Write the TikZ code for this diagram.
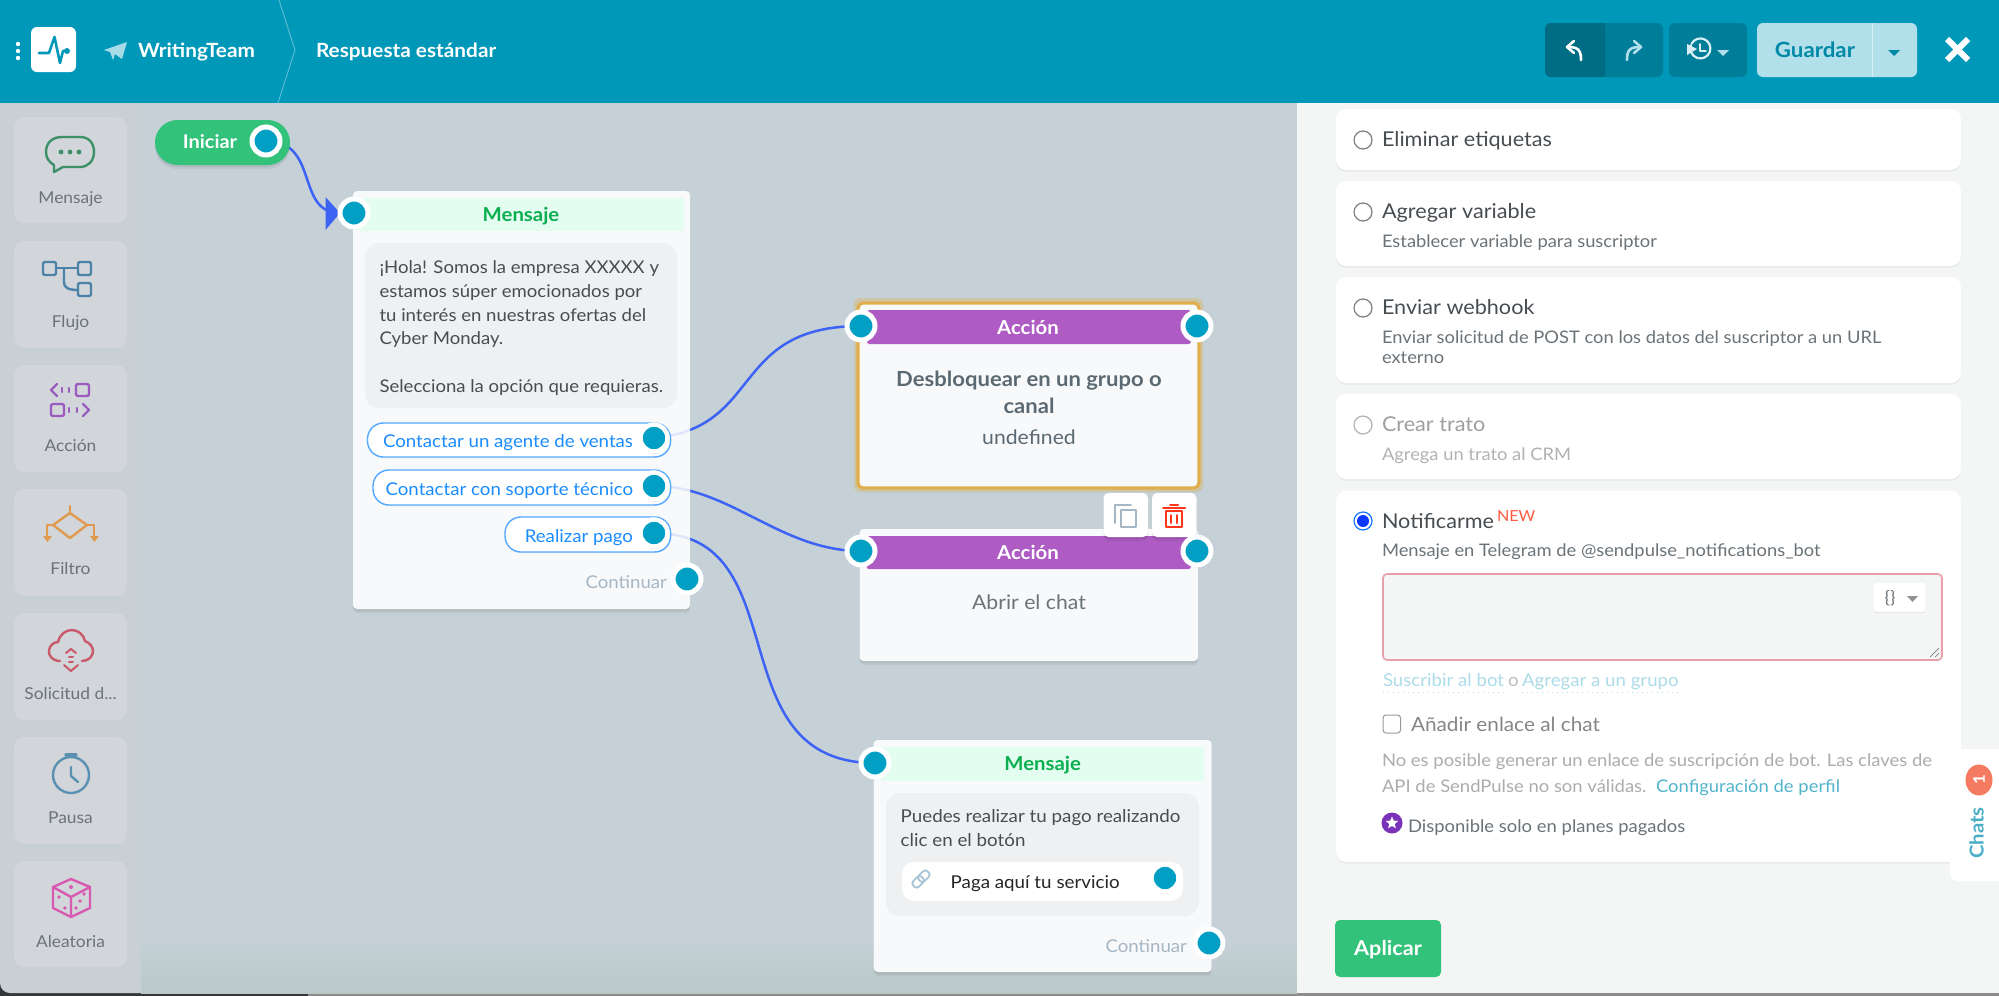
\documentclass[tikz,border=0pt]{standalone}
\usepackage{fontspec}
\setmainfont{Lato}[FakeStretch=1.06]
\usetikzlibrary{arrows.meta,shapes.geometric,shadows}
\pgfdeclarelayer{bgl}\pgfdeclarelayer{conl}\pgfdeclarelayer{cardl}\pgfdeclarelayer{fntl}
\pgfsetlayers{bgl,conl,cardl,fntl,main}
\definecolor{hdr}{HTML}{0098B9}
\definecolor{canvasc}{HTML}{C5D1D7}
\definecolor{canvasb}{HTML}{BBC8C8}
\definecolor{toolc}{HTML}{C9D0D4}
\definecolor{toolcard}{HTML}{D2D5DA}
\definecolor{panelc}{HTML}{F4F6F6}
\definecolor{cardc}{HTML}{F8F9FB}
\definecolor{mgreen}{HTML}{E3FDF0}
\definecolor{mgreentx}{HTML}{0BAF50}
\definecolor{bubble}{HTML}{EEF0F2}
\definecolor{btnblue}{HTML}{1A8CFF}
\definecolor{portc}{HTML}{009FC3}
\definecolor{connc}{HTML}{3D63F5}
\definecolor{purp}{HTML}{AE5CC4}
\definecolor{gold}{HTML}{E0AE4C}
\definecolor{txd}{HTML}{484D52}
\definecolor{txg}{HTML}{6B7378}
\definecolor{txl}{HTML}{A5B6C4}
\definecolor{slatebold}{HTML}{5B6A72}
\definecolor{linkl}{HTML}{ABDCE8}
\definecolor{linkm}{HTML}{53B5CC}
\definecolor{greenb}{HTML}{33C27A}
\definecolor{icmsg}{HTML}{3E9068}
\definecolor{icflow}{HTML}{4A82A8}
\definecolor{icact}{HTML}{9A5CC0}
\definecolor{icfil}{HTML}{E09A50}
\definecolor{iccld}{HTML}{C85A6A}
\definecolor{icpau}{HTML}{5A90B0}
\definecolor{iccub}{HTML}{D85AB0}
\definecolor{areab}{HTML}{E8A0A8}
\definecolor{badge}{HTML}{F47A60}
\definecolor{chatst}{HTML}{4AAEC8}
\definecolor{newc}{HTML}{FF5A40}
\definecolor{linkic}{HTML}{A8C4D4}
\tikzset{
  x=0.5pt,y=-0.5pt,
  softshadow/.style={drop shadow={shadow xshift=0pt,shadow yshift=-1pt,opacity=.06,fill=black},
                     drop shadow={shadow xshift=0pt,shadow yshift=-2pt,opacity=.05,fill=black}},
  port/.style={circle,inner sep=0,outer sep=0,minimum size=14pt,fill=portc,draw=white,line width=2.5pt,
               drop shadow={shadow xshift=0pt,shadow yshift=-1.2pt,opacity=.16,fill=black}},
  conn/.style={draw=connc,line width=1.25pt},
  toolcardst/.style={fill=toolcard,rounded corners=5pt},
  radiost/.style={circle,inner sep=0,outer sep=0,minimum size=9pt,fill=white,draw=#1,line width=.6pt},
  pcard/.style={fill=white,rounded corners=5pt,drop shadow={shadow xshift=0pt,shadow yshift=-.8pt,opacity=.05,fill=black}},
  ic/.style={line width=1.2pt,line cap=round,line join=round},
}
\newcommand{\bx}[6][]{\pgfmathsetmacro\bw{(#5-#3)*0.5}\pgfmathsetmacro\bh{(#6-#4)*0.5}%
  \node[rectangle,inner sep=0,outer sep=0,minimum width=\bw pt,minimum height=\bh pt,#1] (#2) at ({(#3+#5)/2},{(#4+#6)/2}) {};}
\newcommand{\tx}[5][]{\node[inner sep=0,outer sep=0,anchor=mid west,yshift=-.7pt,font=\fontsize{#4}{#4}\selectfont,#1] (#2) at (#3) {#5};}
\begin{document}
\begin{tikzpicture}
\useasboundingbox (0,0) rectangle (1999,996);
\begin{pgfonlayer}{bgl}
  \fill[black!88!cyan] (0,960) rectangle (308,996);
  \fill[gray!90] (308,990) rectangle (1999,996);
  \fill[canvasc] (141,103) rectangle (1297,940);
  \shade[top color=canvasc,bottom color=canvasb] (141,940) rectangle (1297,993);
  \fill[toolc] (0,103) -- (141,103) -- (141,993) [rounded corners=5pt]-- (0,993) [sharp corners]-- cycle;
  \fill[panelc] (1297,103) rectangle (1999,993);
  \fill[hdr] (0,0) rectangle (1999,103);
\end{pgfonlayer}

% header
\fill[white] (18,44) circle (1.1pt) (18,51) circle (1.1pt) (18,58) circle (1.1pt);
\bx[fill=white,rounded corners=3pt]{logo}{31}{27}{76}{72}
\draw[hdr,line width=1.3pt,line join=round,line cap=round] (39,53) -- (49,53) -- (54.5,37) -- (60,63) -- (63,51) -- (67,51);
\fill[hdr] (67,51) circle (1.5pt);
\fill[white!65!hdr] (104,50) -- (127,42) -- (122,59) -- (115,54) -- (113,60) -- (110,52) -- cycle;
\tx[text=white]{team}{138,51}{9.8}{\bfseries WritingTeam}
\draw[white!35!hdr,line width=.5pt] (279,0) -- (295,50) -- (278,103);
\tx[text=white]{resp}{316,51}{9.8}{\bfseries Respuesta estándar}
\bx[fill=hdr!82!black,rounded corners=3pt]{hbundo}{1545}{23}{1663}{77}
\fill[hdr!72!black,rounded corners=3pt] (1545,23) rectangle (1605,77);
\fill[hdr!72!black] (1595,23) rectangle (1605,77);
\draw[white,ic,line width=1.3pt] (1581,60) .. controls (1581,50) and (1578,47) .. (1568,47);
\draw[white,ic,line width=1.3pt] (1574,41) -- (1567,47) -- (1574,53);
\draw[white!70!hdr,ic,line width=1.3pt] (1627,60) .. controls (1627,50) and (1630,47) .. (1640,47);
\draw[white!70!hdr,ic,line width=1.3pt] (1634,41) -- (1641,47) -- (1634,53);
\bx[fill=hdr!82!black,rounded corners=3pt]{hbhist}{1669}{23}{1747}{77}
\draw[white!85!hdr,ic,line width=1.1pt] (1691,45) arc[start angle=200,end angle=-150,radius=10];
\draw[white!85!hdr,ic,line width=.9pt] (1700,44) -- (1700,51) -- (1706,51);
\fill[white!85!hdr] (1687,44) -- (1697,49) -- (1687,55) -- cycle;
\fill[white!70!hdr] (1717,50) -- (1729,50) -- (1723,56) -- cycle;
\bx[fill=white!70!hdr,rounded corners=3pt]{guardar}{1757}{23}{1917}{77}
\draw[white!85!hdr,line width=.5pt] (1872.5,23) -- (1872.5,77);
\tx[anchor=mid,text=hdr!90!black]{guardart}{1815,51}{10.5}{\bfseries Guardar}
\fill[hdr!90!black] (1888,50) -- (1900,50) -- (1894,56) -- cycle;
\draw[white,line width=3pt] (1947,39) -- (1968,60) (1947,60) -- (1968,39);

% toolbar
\bx[toolcardst]{tc1}{14}{117}{127}{223}
\bx[toolcardst]{tc2}{14}{241}{127}{348}
\bx[toolcardst]{tc3}{14}{365}{127}{472}
\bx[toolcardst]{tc4}{14}{489}{127}{596}
\bx[toolcardst]{tc5}{14}{613}{127}{720}
\bx[toolcardst]{tc6}{14}{737}{127}{844}
\bx[toolcardst]{tc7}{14}{861}{127}{967}
\tikzset{tl/.style={anchor=mid,text=txg}}
\tx[tl]{l1}{70.5,197}{8.2}{Mensaje}
\tx[tl]{l2}{70.5,321}{8.2}{Flujo}
\tx[tl]{l3}{70.5,445}{8.2}{Acción}
\tx[tl]{l4}{70.5,568}{8.2}{Filtro}
\tx[tl]{l5}{70.5,693}{8.2}{Solicitud d...}
\tx[tl]{l6}{70.5,817}{8.2}{Pausa}
\tx[tl]{l7}{70.5,941}{8.2}{Aleatoria}
% icons
\draw[ic,draw=icmsg] (62,137) -- (80,137) .. controls (89,137) and (94,143) .. (94,152) .. controls (94,161) and (88,167) .. (80,167) -- (63,167) -- (54,172) -- (54,165) .. controls (49,162) and (46,158) .. (46,152) .. controls (46,143) and (52,137) .. (62,137) -- cycle;
\fill[icmsg] (61,152) circle (1.2pt) (70,152) circle (1.2pt) (79,152) circle (1.2pt);
\begin{scope}[ic,draw=icflow]
\draw[rounded corners=1pt] (43,262) rectangle (56,275);
\draw[rounded corners=1pt] (78,262) rectangle (91,275);
\draw[rounded corners=1pt] (78,283) rectangle (91,296);
\draw (56,268) -- (78,268);
\draw (64,268) -- (64,282) .. controls (64,287) and (67,290) .. (78,290);
\end{scope}
\begin{scope}[ic,draw=icact]
\draw[rounded corners=1pt] (76,384) rectangle (89,396);
\draw[rounded corners=1pt] (51,404) rectangle (64,416);
\draw (57,384) -- (51,390) -- (57,396);
\draw (83,404) -- (89,410) -- (83,416);
\draw (62,388) -- (62,392) (69,388) -- (69,392) (69,408) -- (69,412) (77,408) -- (77,412);
\end{scope}
\begin{scope}[ic,draw=icfil]
\draw (70,513) -- (87,525) -- (70,538) -- (53,525) -- cycle;
\draw (70,506) -- (70,513);
\draw (53,525) -- (47,525) -- (47,536) (87,525) -- (94,525) -- (94,536);
\fill[icfil] (43,536) -- (52,536) -- (47.5,542) -- cycle (90,536) -- (99,536) -- (94.5,542) -- cycle;
\end{scope}
\begin{scope}[ic,draw=iccld]
\draw (60,661) .. controls (52,661) and (48,655) .. (49,650) .. controls (50,645) and (54,642) .. (58,642) .. controls (60,634) and (66,630) .. (72,630) .. controls (78,630) and (84,635) .. (85,641) .. controls (90,643) and (93,647) .. (93,651) .. controls (93,656) and (89,661) .. (82,661);
\draw[line width=1pt] (66,653) -- (71,649) -- (76,653);
\draw[line width=1pt] (69,657) -- (73,657) (69,662) -- (73,662);
\draw[line width=1pt] (64,665) -- (71,671) -- (78,665);
\end{scope}
\begin{scope}[ic,draw=icpau]
\draw (71,775) circle[radius=18];
\draw[line width=1.6pt] (66,755) -- (76,755);
\draw (71,767) -- (71,776) -- (78,782);
\end{scope}
\begin{scope}[ic,draw=iccub]
\draw (71,879) -- (90,887) -- (90,908) -- (71,917) -- (53,908) -- (53,887) -- cycle;
\draw (53,887) -- (71,897) -- (90,887) (71,897) -- (71,917);
\fill[iccub] (71,887) circle (1pt) (59,897) circle (.9pt) (65,908) circle (.9pt) (84,894) circle (.9pt) (80,901) circle (.9pt) (76,908) circle (.9pt);
\end{scope}

% start
\node[rectangle,rounded corners=11.2pt,fill=greenb,inner sep=0,minimum width=67.5pt,minimum height=22.5pt,softshadow] (start) at (222.5,142.5) {};
\tx[text=white,anchor=mid]{startt}{210,142}{9.4}{\bfseries Iniciar}
\node[port] (pI) at (266,141) {};

% message 1
\begin{pgfonlayer}{cardl}
\bx[fill=cardc,rounded corners=2pt,softshadow]{m1}{353}{191}{690}{609}
\bx[fill=cardc,rounded corners=2pt,softshadow]{a2}{859.5}{529}{1198}{661}
\bx[fill=cardc,rounded corners=2pt,softshadow]{m2}{873.7}{740}{1211.7}{972}
\bx[fill=gold!35!canvasc,rounded corners=3pt]{a1glow}{854}{298}{1203}{492}
\bx[fill=cardc,draw=gold,line width=1.6pt,rounded corners=2.5pt]{a1}{858}{303}{1199}{488}
\end{pgfonlayer}
\bx[fill=mgreen]{m1h}{359}{198}{684}{231}
\tx[anchor=mid,text=mgreentx]{m1t}{521,215}{9.6}{\bfseries Mensaje}
\bx[fill=bubble,rounded corners=7pt]{m1b}{365}{243}{677}{408}
\tikzset{mt/.style={text=txd}}
\tx[mt]{m1l1}{379.5,267}{8.75}{¡Hola! Somos la empresa XXXXX y}
\tx[mt]{m1l2}{379.5,291}{8.75}{estamos súper emocionados por}
\tx[mt]{m1l3}{379.5,315}{8.75}{tu interés en nuestras ofertas del}
\tx[mt]{m1l4}{379.5,338}{8.75}{Cyber Monday.}
\tx[mt]{m1l5}{379.5,386}{8.75}{Selecciona la opción que requieras.}
\tikzset{qbtn/.style={fill=white,draw=btnblue!75!white,line width=.7pt,rounded corners=8pt,
   drop shadow={shadow xshift=0pt,shadow yshift=-.5pt,opacity=.10,fill=btnblue}}}
\bx[qbtn]{b1}{367.5}{423}{670.6}{457}
\bx[qbtn]{b2}{373}{470}{670.6}{505}
\bx[qbtn]{b3}{505}{517}{670.6}{552}
\tikzset{bt/.style={text=btnblue,anchor=mid east}}
\tx[bt]{b1t}{633,441}{8.8}{Contactar un agente de ventas}
\tx[bt]{b2t}{633,489}{8.8}{Contactar con soporte técnico}
\tx[bt]{b3t}{633,536}{8.8}{Realizar pago}
\tikzset{inport/.style={port,minimum size=13.5pt,line width=2.2pt}}
\node[inport] (pB1) at (654,438) {};
\node[inport] (pB2) at (654,486) {};
\node[inport] (pB3) at (654,533) {};
\tx[text=txl,anchor=mid east]{m1c}{667,582}{8.8}{Continuar}
\node[port] (pM1c) at (687,579) {};
\node[port] (pM1) at (354,213) {};
\coordinate (arrowin) at (340,213);

% accion 1
\bx[fill=purp,rounded corners=1.2pt]{a1h}{867}{310}{1191}{344}
\tx[anchor=mid,text=white]{a1t}{1028,328}{9.6}{\bfseries Acción}
\tx[anchor=mid,text=slatebold]{a1d}{1029,380}{10.4}{\bfseries Desbloquear en un grupo o}
\tx[anchor=mid,text=slatebold]{a1e}{1029,407}{10.4}{\bfseries canal}
\tx[anchor=mid,text=slatebold]{a1u}{1029,438}{10}{undefined}
\node[port] (pA1) at (861,326) {};
\node[port] (pA1r) at (1197,326) {};

% accion 2
\bx[fill=purp,rounded corners=1.2pt]{a2h}{866.5}{536}{1191}{569}
\tx[anchor=mid,text=white]{a2t}{1028,553}{9.6}{\bfseries Acción}
\tx[anchor=mid,text=txg]{a2d}{1029,603}{10}{Abrir el chat}
\bx[fill=white,rounded corners=2.5pt,softshadow]{copy}{1103.5}{493}{1148}{537}
\bx[fill=white,rounded corners=2.5pt,softshadow]{trash}{1152}{493}{1196.5}{537}
\draw[ic,line width=.9pt,draw=txl] (1131,505) -- (1115,505) -- (1115,523) (1121,510) rectangle (1136,527);
\draw[ic,line width=1pt,draw=red!75!orange!90!white] (1166,511) rectangle (1182,527) (1163,508) -- (1185,508) (1170,505) -- (1178,505) (1171,515) -- (1171,523) (1177,515) -- (1177,523);
\node[port] (pA2) at (861,551) {};
\node[port] (pA2r) at (1197,551) {};

% message 2
\bx[fill=mgreen]{m2h}{880.7}{747}{1204}{780.7}
\tx[anchor=mid,text=mgreentx]{m2t}{1042.7,764}{9.6}{\bfseries Mensaje}
\bx[fill=bubble,rounded corners=7pt]{m2b}{886}{793}{1199}{916}
\tx[mt]{m2l1}{900.7,816}{8.85}{Puedes realizar tu pago realizando}
\tx[mt]{m2l2}{900.7,840}{8.85}{clic en el botón}
\bx[fill=white,rounded corners=6pt]{m2btn}{902}{862}{1183}{901}
\draw[draw=linkic,line width=.9pt,rounded corners=1.5pt,rotate around={45:(921,879)}] (911,875) rectangle (923,883) (919,875) rectangle (931,883);
\tx[text=black!85]{m2bt}{950.7,882}{8.85}{Paga aquí tu servicio}
\node[inport] (pM2b) at (1165,878) {};
\tx[text=txl,anchor=mid east]{m2c}{1187,946}{8.8}{Continuar}
\node[port] (pM2c) at (1209,943) {};
\node[port] (pM2) at (875,763) {};

% connectors
\def\pOne{(pB1.center) .. controls (764,428) and +(-132,0) .. (pA1.center)}
\def\pTwo{(pB2.center) .. controls +(76,0) and +(-81,0) .. (pA2.center)}
\def\pThree{(pB3.center) .. controls +(146,0) and +(-160,0) .. (pM2.center)}
\begin{pgfonlayer}{conl}
\draw[conn] (pI.center) .. controls +(54,0) and +(-45,0) .. (arrowin);
\fill[connc] (325.5,197) -- (340,213) -- (325.5,230) -- cycle;
\draw[conn] \pOne;
\draw[conn] \pTwo;
\draw[conn] \pThree;
\end{pgfonlayer}
\begin{pgfonlayer}{fntl}
\begin{scope}
\clip (353,191) rectangle (690,609);
\draw[conn,draw=connc,opacity=.13] \pOne;
\draw[conn,draw=connc,opacity=.13] \pTwo;
\draw[conn,draw=connc,opacity=.13] \pThree;
\end{scope}
\end{pgfonlayer}

% right panel
\bx[pcard]{c1}{1336}{109}{1961}{170}
\bx[pcard]{c2}{1336}{181}{1961}{266}
\bx[pcard]{c3}{1336}{277}{1961}{383}
\bx[pcard]{c4}{1336}{394}{1961}{479}
\bx[pcard]{c5}{1336}{491}{1961}{862}
\node[radiost=gray] (r1) at (1363,140) {};
\node[radiost=gray] (r2) at (1363,212) {};
\node[radiost=gray] (r3) at (1363,308) {};
\node[radiost=gray!60] (r4) at (1363,425) {};
\node[radiost=btnblue!85!blue] (r5) at (1363,521) {};
\fill[blue!60!btnblue] (r5.center) circle (3pt);
\tikzset{ttl/.style={text=txd},sbt/.style={text=txg},dis/.style={text=gray!75}}
\tx[ttl]{t1}{1382,140}{10.2}{Eliminar etiquetas}
\tx[ttl]{t2}{1382,212}{10.2}{Agregar variable}
\tx[sbt]{s2}{1382,241}{8.65}{Establecer variable para suscriptor}
\tx[ttl]{t3}{1382,308}{10.2}{Enviar webhook}
\tx[sbt]{s3}{1382,337}{8.65}{Enviar solicitud de POST con los datos del suscriptor a un URL}
\tx[sbt]{s3b}{1382,357}{8.65}{externo}
\tx[dis]{t4}{1382,425}{10.2}{Crear trato}
\tx[dis,text=gray!60]{s4}{1382,454}{8.65}{Agrega un trato al CRM}
\tx[ttl]{t5}{1382,522}{10.2}{Notificarme}
\tx[text=newc]{newt}{1497,515}{7.6}{NEW}
\tx[sbt]{s5}{1382,550}{8.65}{Mensaje en Telegram de @sendpulse\_notifications\_bot}
\bx[fill=panelc,draw=areab,line width=.8pt,rounded corners=2pt]{area}{1383}{574}{1942}{660}
\draw[gray,line width=.35pt] (1930,657) -- (1939,648) (1935,657) -- (1939,653);
\bx[fill=white,rounded corners=1.5pt,drop shadow={shadow xshift=0pt,shadow yshift=-.5pt,opacity=.07,fill=black}]{varb}{1874}{583}{1925.5}{612}
\tx[anchor=mid,text=txg]{vart}{1890,597}{8.5}{\{\}}
\fill[gray!85] (1907,596) -- (1918,596) -- (1912.5,602) -- cycle;
\tikzset{lk/.style={text=linkl}}
\tx[lk]{lk1}{1383,680}{8.8}{Suscribir al bot}
\tx[text=gray!50]{lko}{1508,680}{8.8}{o}
\tx[lk]{lk2}{1522,680}{8.8}{Agregar a un grupo}
\draw[linkl,dotted,line width=.5pt] (1383,692) -- (1506,692) (1522,692) -- (1681,692);
\bx[fill=white,draw=gray!80,line width=.5pt,rounded corners=1.5pt]{chk}{1383}{715}{1400.5}{733}
\tx[text=gray!95]{chkt}{1411,725}{9.8}{Añadir enlace al chat}
\tx[text=gray!65]{no1}{1382,760}{8.7}{No es posible generar un enlace de suscripción de bot. Las claves de}
\tx[text=gray!65]{no2}{1382,786}{8.7}{API de SendPulse no son válidas.}
\tx[text=linkm]{no3}{1656,786}{8.7}{Configuración de perfil}
\node[circle,fill=violet!70!blue!80!white,inner sep=0,minimum size=10.5pt] (stc) at (1392,823) {};
\node[star,star points=5,star point ratio=2.2,fill=white,inner sep=0,minimum size=6.5pt] (sts) at (1392,823) {};
\tx[sbt]{avail}{1408,826}{8.7}{Disponible solo en planes pagados}
\bx[fill=greenb,rounded corners=2.5pt]{apl}{1335}{920}{1441}{977}
\tx[anchor=mid,text=white]{aplt}{1388,949}{10.2}{\bfseries Aplicar}
% chats tab
\bx[fill=white,rounded corners=4pt]{tab}{1950}{749}{2010}{881}
\fill[panelc] (1999,740) rectangle (2012,890);
\node[ellipse,fill=badge,inner sep=0,minimum width=13.5pt,minimum height=15.5pt] (bd) at (1979,780) {};
\node[rotate=90,text=white,inner sep=0,font=\fontsize{8}{8}\selectfont\bfseries] (bdt) at (1979,780) {1};
\node[rotate=90,text=chatst,inner sep=0,font=\fontsize{9.6}{9.6}\selectfont\bfseries] (chats) at (1976.6,833) {Chats};
\end{tikzpicture}
\end{document}
